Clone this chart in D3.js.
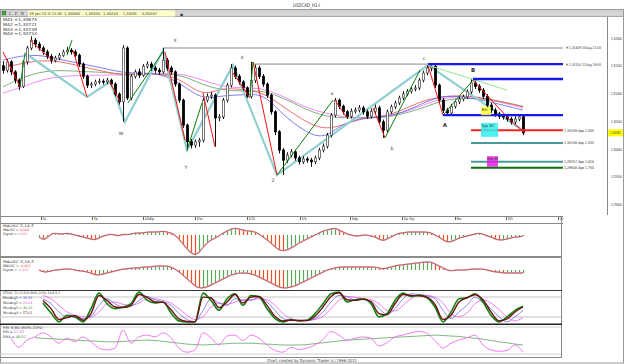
<!DOCTYPE html>
<meta charset="utf-8">
<svg width="625" height="364"></svg>
<script src="https://d3js.org/d3.v7.min.js"></script>
<style>
    body { margin: 0; background: #fff; }
    svg { display: block; font-family: "DejaVu Sans", "Liberation Sans", sans-serif; }
    text { font-size: 4.2px; fill: #333; }
</style>
<script>
    // ---- price bars, one per hour (open = previous close) ----
    var firstOpen = 1.3150;
    var closes = [
        1.3142, 1.3157, 1.3139, 1.3124, 1.3113, 1.3157, 1.3182, 1.3196, 1.3189, 1.3182,
        1.3175, 1.3167, 1.3160, 1.3164, 1.3169, 1.3175, 1.3178, 1.3175, 1.3169, 1.3153,
        1.3131, 1.3115, 1.3117, 1.3121, 1.3122, 1.3121, 1.3124, 1.3117, 1.3099, 1.3085,
        1.3182, 1.3092, 1.3131, 1.3139, 1.3133, 1.3149, 1.3153, 1.3146, 1.3142, 1.3139,
        1.3160, 1.3146, 1.3139, 1.3117, 1.3088, 1.3043, 1.3013, 1.3007, 1.3013, 1.3016,
        1.3088, 1.3095, 1.3097, 1.3056, 1.3058, 1.3088, 1.3115, 1.3146, 1.3131, 1.3121,
        1.3110, 1.3095, 1.3124, 1.3146, 1.3131, 1.3117, 1.3097, 1.3067, 1.3031, 1.2998,
        1.2980, 1.2989, 1.2995, 1.2984, 1.2977, 1.2982, 1.2980, 1.2977, 1.2984, 1.2998,
        1.3005, 1.3025, 1.3061, 1.3088, 1.3077, 1.3067, 1.3059, 1.3068, 1.3070, 1.3074,
        1.3067, 1.3059, 1.3068, 1.3074, 1.3049, 1.3034, 1.3067, 1.3076, 1.3083, 1.3092,
        1.3099, 1.3104, 1.3108, 1.3110, 1.3124, 1.3137, 1.3146, 1.3149, 1.3115, 1.3088,
        1.3070, 1.3065, 1.3077, 1.3085, 1.3090, 1.3094, 1.3103, 1.3119, 1.3113, 1.3106,
        1.3095, 1.3079, 1.3070, 1.3063, 1.3059, 1.3058, 1.3054, 1.3049, 1.3054, 1.3058,
        1.3029];
    var highs = [
        1.3158, 1.3162, 1.3160, 1.3142, 1.3127, 1.3160, 1.3186, 1.3203, 1.3200, 1.3193,
        1.3186, 1.3179, 1.3171, 1.3168, 1.3173, 1.3179, 1.3184, 1.3182, 1.3179, 1.3172,
        1.3156, 1.3134, 1.3121, 1.3125, 1.3127, 1.3126, 1.3128, 1.3127, 1.3120, 1.3102,
        1.3187, 1.3185, 1.3135, 1.3143, 1.3145, 1.3153, 1.3158, 1.3157, 1.3150, 1.3146,
        1.3182, 1.3164, 1.3150, 1.3142, 1.3120, 1.3091, 1.3046, 1.3018, 1.3017, 1.3020,
        1.3092, 1.3100, 1.3103, 1.3100, 1.3063, 1.3092, 1.3119, 1.3153, 1.3150, 1.3135,
        1.3124, 1.3113, 1.3157, 1.3152, 1.3150, 1.3135, 1.3120, 1.3100, 1.3070, 1.3034,
        1.3002, 1.2994, 1.3000, 1.2999, 1.2988, 1.2987, 1.2986, 1.2984, 1.2988, 1.3002,
        1.3010, 1.3029, 1.3065, 1.3092, 1.3091, 1.3080, 1.3070, 1.3073, 1.3075, 1.3079,
        1.3078, 1.3071, 1.3073, 1.3080, 1.3078, 1.3053, 1.3071, 1.3080, 1.3087, 1.3096,
        1.3104, 1.3108, 1.3112, 1.3115, 1.3128, 1.3141, 1.3150, 1.3153, 1.3152, 1.3118,
        1.3092, 1.3074, 1.3081, 1.3089, 1.3094, 1.3098, 1.3107, 1.3126, 1.3123, 1.3117,
        1.3110, 1.3099, 1.3083, 1.3074, 1.3067, 1.3064, 1.3062, 1.3058, 1.3059, 1.3063,
        1.3062];
    var lows = [
        1.3136, 1.3138, 1.3133, 1.3118, 1.3106, 1.3110, 1.3152, 1.3178, 1.3183, 1.3177,
        1.3170, 1.3162, 1.3154, 1.3156, 1.3160, 1.3166, 1.3171, 1.3170, 1.3165, 1.3148,
        1.3126, 1.3110, 1.3110, 1.3113, 1.3117, 1.3116, 1.3117, 1.3113, 1.3095, 1.3080,
        1.3049, 1.3088, 1.3088, 1.3127, 1.3128, 1.3130, 1.3145, 1.3141, 1.3137, 1.3134,
        1.3136, 1.3141, 1.3134, 1.3112, 1.3083, 1.3038, 1.2998, 1.3001, 1.3002, 1.3004,
        1.3012, 1.3084, 1.3090, 1.3004, 1.3050, 1.3054, 1.3084, 1.3111, 1.3126, 1.3116,
        1.3105, 1.3092, 1.3091, 1.3119, 1.3126, 1.3112, 1.3092, 1.3062, 1.3025, 1.2992,
        1.2953, 1.2975, 1.2985, 1.2979, 1.2972, 1.2973, 1.2975, 1.2968, 1.2973, 1.2980,
        1.2994, 1.3001, 1.3021, 1.3057, 1.3072, 1.3062, 1.3054, 1.3055, 1.3064, 1.3066,
        1.3062, 1.3054, 1.3055, 1.3063, 1.3044, 1.3020, 1.3030, 1.3063, 1.3072, 1.3079,
        1.3088, 1.3095, 1.3100, 1.3104, 1.3106, 1.3120, 1.3133, 1.3140, 1.3110, 1.3083,
        1.3065, 1.3061, 1.3062, 1.3073, 1.3081, 1.3086, 1.3090, 1.3099, 1.3108, 1.3101,
        1.3090, 1.3074, 1.3065, 1.3058, 1.3054, 1.3053, 1.3049, 1.3044, 1.3045, 1.3050,
        1.3025];

    // ---- moving averages, sampled every 5 bars ----
    var maBars = [0, 5, 10, 15, 20, 25, 30, 35, 40, 45, 50, 55, 60, 65, 70, 75, 80, 85, 90, 95, 100, 105, 110, 115, 120, 125, 130];
    var ma1 = [1.3160, 1.3169, 1.3169, 1.3160, 1.3153, 1.3146, 1.3137, 1.3137, 1.3135, 1.3115, 1.3088, 1.3097, 1.3097, 1.3101, 1.3061, 1.3034, 1.3016, 1.3047, 1.3056, 1.3058, 1.3065, 1.3083, 1.3097, 1.3094, 1.3088, 1.3079, 1.3070];
    var ma2 = [1.3146, 1.3155, 1.3160, 1.3157, 1.3148, 1.3140, 1.3133, 1.3137, 1.3135, 1.3124, 1.3094, 1.3112, 1.3106, 1.3103, 1.3076, 1.3052, 1.3034, 1.3043, 1.3056, 1.3058, 1.3070, 1.3088, 1.3094, 1.3097, 1.3092, 1.3085, 1.3076];
    var ma3 = [1.3112, 1.3130, 1.3140, 1.3142, 1.3139, 1.3139, 1.3133, 1.3135, 1.3135, 1.3133, 1.3115, 1.3106, 1.3104, 1.3106, 1.3092, 1.3074, 1.3059, 1.3056, 1.3056, 1.3056, 1.3063, 1.3074, 1.3088, 1.3092, 1.3090, 1.3085, 1.3077];
    var ma4 = [1.3101, 1.3112, 1.3126, 1.3131, 1.3133, 1.3133, 1.3133, 1.3135, 1.3137, 1.3135, 1.3124, 1.3112, 1.3110, 1.3110, 1.3095, 1.3077, 1.3065, 1.3058, 1.3056, 1.3058, 1.3065, 1.3079, 1.3092, 1.3095, 1.3092, 1.3083, 1.3074];
    var maLegend = ["MA1 =1,30673", "MA2 =1,30721", "MA3 =1,30749", "MA4 =1,30753"];

    // ---- swing drawings: [bar, price] ----
    var tealSwings = [[5.5, 1.3173], [21, 1.3094], [26.75, 1.3121], [30.5, 1.3049], [40, 1.3178], [46, 1.2998], [57.5, 1.3151], [68.5, 1.2953], [106.25, 1.3151], [130.5, 1.3031]];
    var redSwings = [
        [[0, 1.3175], [4.25, 1.3112]],
        [[6.75, 1.3196], [12.25, 1.3160]],
        [[17.5, 1.3178], [21, 1.3094]],
        [[26.75, 1.3121], [29.25, 1.3085]],
        [[40.5, 1.3175], [45.5, 1.3016]],
        [[50, 1.3101], [53, 1.3004]],
        [[57.5, 1.3137], [61.75, 1.3092]],
        [[62.5, 1.3157], [68.5, 1.2953]],
        [[83, 1.3088], [86, 1.3056]],
        [[92.5, 1.3074], [95.5, 1.3020]],
        [[106.25, 1.3151], [110, 1.3061]],
        [[117.5, 1.3124], [126.75, 1.3052], [130.5, 1.3029]]];
    var greenSwings = [
        [[4.25, 1.3112], [5.5, 1.3173]],
        [[16, 1.3169], [17.25, 1.3196]],
        [[31.25, 1.3083], [40, 1.3175]],
        [[46, 1.2998], [49.75, 1.3083]],
        [[61.75, 1.3094], [62.5, 1.3157]],
        [[68.5, 1.2953], [82.5, 1.3088]],
        [[95.5, 1.3020], [104.25, 1.3142]],
        [[110, 1.3061], [117.5, 1.3124]]];
    var trendLine = [[106.25, 1.3151], [126, 1.3106]];

    var waveNames = ["W", "X", "Y", "X", "Z", "a", "b", "c", "A", "B"];
    var waveBars = [29.5, 43, 45.75, 59.75, 67.5, 82.25, 97.25, 105.25, 110.5, 117.5];
    var wavePrices = [1.3029, 1.3196, 1.2968, 1.3166, 1.2944, 1.3101, 1.3002, 1.3164, 1.3043, 1.3142];

    // ---- horizontal levels ----
    var highLevels = [1.3182, 1.3153];
    var highLevelStarts = [40, 62.5];
    var highLabels = ["H 1,31829 10Aug 11:00", "H 1,31524 11Aug 19:00"];
    var swingLevels = [1.3153, 1.3126, 1.3061];        // c, B, A
    var swingStarts = [106.25, 117.5, 110];
    var projLevels = [1.3034, 1.3011, 1.2977, 1.2966];
    var projLabels = ["1,30339 App 1.000", "1,30108 App 1.250", "1,29757 App 1.618", "1,29648 App 1.750"];
    var projStart = 117;
    var zones = [
        { name: "Rtl", b0: 119.5, b1: 122, p0: 1.3076, p1: 1.3061 },
        { name: "Typ RC", b0: 119.5, b1: 123.75, p0: 1.3047, p1: 1.3022 },
        { name: "Max RC", b0: 121, b1: 123.75, p0: 1.2987, p1: 1.2968 }];
    var lastPrice = 1.30291;

    var priceTicks = [1.29, 1.295, 1.30, 1.305, 1.31, 1.315, 1.32];
    var dateTickBars = [9.5, 22.25, 35, 48, 61, 74.25, 86.75, 99.75, 113, 125.75, 138.75];
    var dateTickLabels = ["5c", "7p", "14d/p", "1/w", "1/2t", "1/k", "1dp", "1w Dp", "8w", "1f5", "2x"];

    // ---- oscillators, one value per bar (in pips) ----
    var macdFast = [
        null, null, null, null, null, null, null, null, null, -2,
        -5, -3, 1, 2, 1, 1, 2, 1, 0, -1,
        -2, -3, -4, -5, -3, -1, 0, 1, 0, -1,
        1, 0, 1, 2, 2, 2, 3, 3, 3, 3,
        4, 3, 2, 0, -4, -9, -14, -18, -20, -18,
        -12, -8, -5, -3, -1, 2, 4, 6, 7, 6,
        5, 4, 4, 3, 1, -2, -5, -8, -12, -15,
        -16, -15, -13, -11, -8, -6, -4, -2, 0, 2,
        4, 5, 6, 7, 5, 3, 1, 0, -1, -1,
        0, 0, -1, -2, -4, -6, -4, -2, 0, 2,
        2, 3, 3, 3, 3, 3, 3, 2, 0, -2,
        -5, -7, -7, -5, -3, -2, -1, 0, 1, 2,
        1, -1, -2, -4, -5, -5, -4, -3, -2, -2,
        -1];
    var macdSlow = [
        null, null, null, null, null, null, null, null, null, 0,
        -2, -2, -1, 0, 0, 1, 1, 1, 0, -1,
        -1, -2, -3, -5, -5, -4, -3, -2, -1, 0,
        1, 1, 2, 2, 2, 3, 3, 3, 4, 4,
        4, 4, 3, 1, -2, -5, -9, -12, -16, -18,
        -18, -17, -15, -13, -11, -9, -7, -5, -4, -3,
        -3, -3, -4, -5, -7, -9, -11, -13, -15, -17,
        -18, -18, -17, -16, -14, -12, -10, -8, -6, -4,
        -2, 0, 1, 2, 3, 3, 3, 3, 3, 3,
        3, 3, 3, 3, 2, 1, 2, 3, 4, 5,
        5, 6, 6, 7, 7, 8, 8, 8, 6, 4,
        2, 0, -1, 0, 0, 0, 0, 1, 1, 1,
        1, 0, -1, -2, -2, -3, -3, -3, -3, -3,
        -3];

    // ---- stochastics and RSI, every 2nd bar ----
    var stoch1 = [null, null, null, null, null, 62, 32, 5, 25, 20, 5, 45, 92, 60, 45, 50, 60, 95, 71, 62, 65, 32, 8, 5, 5, 92, 70, 40, 75, 90, 55, 85, 80, 45, 15, 5, 12, 8, 10, 30, 60, 90, 95, 65, 72, 75, 60, 20, 30, 70, 92, 82, 86, 78, 50, 5, 35, 75, 78, 90, 65, 25, 5, 20, 40, 52];
    var stoch4 = [null, null, null, null, null, 70, 45, 12, 18, 24, 10, 30, 85, 70, 50, 48, 55, 88, 80, 65, 64, 42, 14, 6, 5, 80, 78, 48, 65, 88, 62, 80, 82, 55, 22, 8, 10, 9, 9, 22, 50, 82, 93, 72, 70, 74, 66, 30, 26, 60, 88, 85, 84, 80, 58, 12, 25, 65, 78, 87, 72, 35, 8, 14, 35, 50];
    var stoch2 = [null, null, null, null, null, 75, 60, 35, 20, 20, 15, 22, 55, 75, 60, 50, 52, 70, 82, 72, 66, 55, 30, 12, 6, 40, 75, 62, 55, 75, 70, 70, 80, 65, 40, 15, 10, 9, 9, 15, 35, 65, 85, 82, 72, 72, 68, 45, 28, 45, 75, 90, 88, 84, 75, 40, 15, 35, 55, 80, 62, 45, 20, 5, 20, 40];
    var stoch3 = [null, null, null, null, null, 85, 75, 55, 35, 25, 20, 20, 35, 60, 65, 58, 55, 62, 75, 75, 70, 62, 45, 25, 12, 20, 50, 62, 58, 65, 72, 72, 75, 72, 55, 30, 15, 10, 9, 12, 22, 45, 70, 82, 80, 75, 72, 60, 40, 38, 55, 75, 86, 85, 80, 62, 30, 20, 32, 60, 71, 62, 42, 20, 8, 18];
    var rsi = [null, 56, 35, 51, 58, 67, 58, 44, 56, 47, 58, 47, 33, 29, 33, 73, 44, 58, 62, 58, 67, 56, 33, 24, 29, 67, 56, 40, 60, 62, 50, 62, 55, 40, 28, 24, 35, 30, 33, 40, 52, 70, 62, 50, 55, 58, 55, 38, 45, 58, 62, 67, 70, 66, 50, 33, 44, 51, 56, 62, 40, 29, 26, 28, 40, 24];
    var rsiEma = [null, null, null, null, 56, 55, 54, 53, 52, 51, 50, 49, 48, 47, 47, 48, 49, 50, 51, 50, 48, 46, 44, 42, 41, 40, 41, 42, 43, 44, 44, 44, 43, 42, 41, 40, 40, 40, 41, 43, 45, 47, 49, 51, 52, 53, 54, 55, 56, 57, 58, 59, 60, 61, 62, 61, 60, 59, 57, 55, 53, 50, 47, 45, 42, 40];

    // ---------- drawing ----------
    var svg = d3.select("svg");
    var fmt = function (p) { return d3.format(".5f")(p).replace(".", ","); };
    // squeeze tiny labels to the width they take in the screenshot
    function fit(sel, w) { sel.attr("textLength", w).attr("lengthAdjust", "spacingAndGlyphs"); }

    var x = d3.scaleLinear().domain([0, 140]).range([3, 563]);
    var y = d3.scaleLinear().domain([1.30, 1.32]).range([149, 38]);
    var plotRight = x(140);

    // frame and header
    svg.append("rect").attr("x", 0.5).attr("y", 9.5).attr("width", 623).attr("height", 353.5)
        .attr("fill", "none").attr("stroke", "#999");
    svg.append("text").attr("x", 293).attr("y", 7).style("font-size", "5px").attr("fill", "#222")
        .text("USDCAD_H1-I").call(fit, 27);
    svg.append("rect").attr("x", 1).attr("y", 10).attr("width", 622).attr("height", 6.5).attr("fill", "#d2d2d2");
    svg.append("line").attr("x1", 1).attr("x2", 623).attr("y1", 13.5).attr("y2", 13.5)
        .attr("stroke", "#ececec").attr("stroke-dasharray", "1,2");
    svg.append("line").attr("x1", 1).attr("x2", 623).attr("y1", 16.5).attr("y2", 16.5).attr("stroke", "#a8a8a8");

    // toolbar
    svg.append("rect").attr("x", 2).attr("y", 11).attr("width", 4).attr("height", 4).attr("fill", "#3a3").attr("stroke", "#555").attr("stroke-width", 0.4);
    [["L", 9, "#333"], ["F", 15, "#c33"], ["R", 21, "#33c"]].forEach(function (t) {
        svg.append("text").attr("x", t[1]).attr("y", 15.3).attr("fill", t[2]).text(t[0]);
    });
    svg.append("rect").attr("x", 28).attr("y", 10.5).attr("width", 147).attr("height", 6).attr("fill", "#ffffc8");
    var bar0 = [["19-Jan-15 Si 11:00", 29, 33, "#333"], ["1,30260", 64, 16, "#333"], ["1,30304", 85, 15, "#333"],
        ["1,30244", 103, 15, "#333"], ["1,30291", 123, 14, "#d22"], ["0,00287", 142, 15, "#d22"]];
    bar0.forEach(function (t) {
        svg.append("text").attr("x", t[1]).attr("y", 15).attr("fill", t[3]).style("font-size", "3.8px")
            .text(t[0]).call(fit, t[2]);
    });
    svg.append("text").attr("x", 180).attr("y", 15.5).attr("fill", "#333").text("\u25C6");

    // price panel
    svg.append("clipPath").attr("id", "pclip").append("rect")
        .attr("x", 0).attr("y", 17).attr("width", plotRight + 1).attr("height", 199);
    var pg = svg.append("g").attr("clip-path", "url(#pclip)");

    var maLine = d3.line().x(function (d, i) { return x(maBars[i]); }).y(function (d) { return y(d); }).curve(d3.curveBasis);
    [[ma4, "#f070f0"], [ma3, "#60a060"], [ma2, "#f05050"], [ma1, "#6060f0"]].forEach(function (m) {
        pg.append("path").datum(m[0]).attr("d", maLine).attr("fill", "none")
            .attr("stroke", m[1]).attr("stroke-width", 0.9).attr("opacity", 0.9);
    });

    // old highs
    highLevels.forEach(function (p, i) {
        pg.append("line").attr("x1", x(highLevelStarts[i])).attr("x2", plotRight)
            .attr("y1", y(p)).attr("y2", y(p)).attr("stroke", "#8a8a8a").attr("stroke-width", 1);
    });

    var ptLine = d3.line().x(function (d) { return x(d[0]); }).y(function (d) { return y(d[1]); });
    pg.append("path").datum(tealSwings).attr("d", ptLine).attr("fill", "none")
        .attr("stroke", "#8fcfcf").attr("stroke-width", 2.2);

    // candles
    var bars = closes.map(function (c, i) {
        return { i: i, o: i ? closes[i - 1] : firstOpen, c: c, h: highs[i], l: lows[i] };
    });
    var cg = pg.append("g").selectAll("g").data(bars).join("g");
    cg.append("line")
        .attr("x1", function (d) { return Math.round(x(d.i)) + 0.5; })
        .attr("x2", function (d) { return Math.round(x(d.i)) + 0.5; })
        .attr("y1", function (d) { return y(d.h); })
        .attr("y2", function (d) { return y(d.l); })
        .attr("stroke", "#111").attr("stroke-width", 1);
    cg.append("rect")
        .attr("x", function (d) { return Math.round(x(d.i)) - 0.5; })
        .attr("width", 2)
        .attr("y", function (d) { return y(Math.max(d.o, d.c)); })
        .attr("height", function (d) { return Math.max(0.8, Math.abs(y(d.o) - y(d.c))); })
        .attr("fill", function (d) { return d.c >= d.o ? "#fff" : "#000"; })
        .attr("stroke", function (d) { return d.c >= d.o ? "#555" : "#000"; })
        .attr("stroke-width", 0.8);

    redSwings.forEach(function (s) {
        pg.append("path").datum(s).attr("d", ptLine).attr("fill", "none").attr("stroke", "#ff1010").attr("stroke-width", 1);
    });
    greenSwings.forEach(function (s) {
        pg.append("path").datum(s).attr("d", ptLine).attr("fill", "none").attr("stroke", "#0a800a").attr("stroke-width", 1);
    });
    pg.append("path").datum(trendLine).attr("d", ptLine).attr("fill", "none").attr("stroke", "#90e890").attr("stroke-width", 1);

    // swing levels
    swingLevels.forEach(function (p, i) {
        pg.append("line").attr("x1", x(swingStarts[i])).attr("x2", plotRight)
            .attr("y1", y(p)).attr("y2", y(p)).attr("stroke", "#1818e8").attr("stroke-width", 2.4);
    });
    var projColors = ["#ff2020", "#4a9a9a", "#4a9a9a", "#107010"];
    projLevels.forEach(function (p, i) {
        pg.append("line").attr("x1", x(projStart)).attr("x2", plotRight)
            .attr("y1", y(p)).attr("y2", y(p)).attr("stroke", projColors[i]).attr("stroke-width", 2);
    });

    var zoneColors = ["#ffff30", "#30f0f0", "#e020e0"];
    var zoneText = [6, 13, 11];
    zones.forEach(function (z, i) {
        pg.append("rect").attr("x", x(z.b0)).attr("width", x(z.b1) - x(z.b0))
            .attr("y", y(z.p0)).attr("height", y(z.p1) - y(z.p0))
            .attr("fill", zoneColors[i]).attr("opacity", 0.85);
        pg.append("text").attr("x", x(z.b0) + 0.5).attr("y", y(z.p0) + 4)
            .style("font-size", "3.6px").attr("fill", "#333").text(z.name).call(fit, zoneText[i]);
    });

    waveNames.forEach(function (n, i) {
        var big = n === "A" || n === "B";
        pg.append("text").attr("x", x(waveBars[i])).attr("y", y(wavePrices[i]) + 2)
            .attr("text-anchor", "middle")
            .style("font-size", big ? "5.5px" : "4.6px").style("font-weight", big ? "bold" : "normal")
            .attr("fill", big ? "#111" : (i < 5 ? "#a05050" : "#444")).text(n);
    });

    // level labels
    highLabels.forEach(function (t, i) {
        svg.append("text").attr("x", plotRight + 3).attr("y", y(highLevels[i]) + 1.5).attr("fill", "#555")
            .style("font-size", "3.8px").text(t).call(fit, 35);
    });
    var projTextColors = ["#ff2020", "#3a8a8a", "#3a8a8a", "#107010"];
    projLabels.forEach(function (t, i) {
        svg.append("text").attr("x", plotRight + 1).attr("y", y(projLevels[i]) + 1.5).attr("fill", projTextColors[i])
            .style("font-size", "3.8px").text(t).call(fit, 30);
    });

    // MA legend
    var maColors = ["#4040e0", "#e03030", "#309030", "#e040e0"];
    maLegend.forEach(function (t, i) {
        svg.append("text").attr("x", 3).attr("y", 21 + i * 4.8).attr("fill", maColors[i])
            .style("font-size", "4.2px").text(t).call(fit, 34);
    });

    // right price axis
    var ya = svg.append("g").attr("transform", "translate(607,0)")
        .call(d3.axisRight(y).tickValues(priceTicks).tickFormat(fmt).tickSize(0).tickPadding(4));
    ya.select(".domain").remove();
    ya.selectAll("text").style("font-size", "3.8px").attr("fill", "#555").attr("font-family", null).call(fit, 11);
    svg.append("line").attr("x1", 607.5).attr("x2", 607.5).attr("y1", 17).attr("y2", 215).attr("stroke", "#888");
    svg.append("rect").attr("x", 608).attr("y", y(lastPrice) - 3.5).attr("width", 15).attr("height", 7).attr("fill", "#ffff00");
    svg.append("text").attr("x", 610).attr("y", y(lastPrice) + 1.5).attr("fill", "#333")
        .style("font-size", "3.8px").text(fmt(lastPrice)).call(fit, 11);

    // date axis
    var xa = svg.append("g").attr("transform", "translate(0,217)")
        .call(d3.axisBottom(x).tickValues(dateTickBars).tickFormat(function (d, i) { return dateTickLabels[i]; }).tickSize(3).tickPadding(1));
    xa.select(".domain").remove();
    xa.selectAll("line").attr("stroke", "#666");
    xa.selectAll("text").style("font-size", "3.8px").attr("fill", "#444").attr("font-family", null)
        .attr("text-anchor", "start").attr("dx", "1").attr("dy", "-0.3em");
    svg.append("line").attr("x1", 0).attr("x2", plotRight).attr("y1", 216.5).attr("y2", 216.5).attr("stroke", "#888");
    svg.append("line").attr("x1", 0).attr("x2", plotRight).attr("y1", 223.5).attr("y2", 223.5).attr("stroke", "#888");

    // lower panels frame
    svg.append("line").attr("x1", plotRight - 1.5).attr("x2", plotRight - 1.5).attr("y1", 216).attr("y2", 358).attr("stroke", "#888");
    svg.append("line").attr("x1", 0).attr("x2", plotRight - 1).attr("y1", 357.5).attr("y2", 357.5).attr("stroke", "#888");
    svg.append("rect").attr("x", 0).attr("y", 256).attr("width", plotRight - 1).attr("height", 2).attr("fill", "#8a8a8a");
    svg.append("line").attr("x1", 0).attr("x2", plotRight - 1).attr("y1", 290.5).attr("y2", 290.5).attr("stroke", "#333");
    svg.append("rect").attr("x", 0).attr("y", 323.5).attr("width", plotRight - 1).attr("height", 1.5).attr("fill", "#222");

    // MACD-style oscillators
    function drawOsc(vals, top, bottom, lo, hi) {
        var yo = d3.scaleLinear().domain([lo, hi]).range([bottom, top]);
        var g = svg.append("g");
        vals.forEach(function (v, i) {
            if (v === null) return;
            var prev = vals[i - 1];
            var up = prev === null || prev === undefined || v >= prev;
            g.append("line").attr("x1", Math.round(x(i)) + 0.5).attr("x2", Math.round(x(i)) + 0.5)
                .attr("y1", yo(0)).attr("y2", yo(v))
                .attr("stroke", up ? "#5aa85a" : "#f05020").attr("stroke-width", 1.2);
        });
        var ln = d3.line().defined(function (d) { return d !== null; })
            .x(function (d, i) { return x(i); }).y(function (d) { return yo(d); }).curve(d3.curveBasis);
        g.append("path").datum(vals).attr("d", ln).attr("fill", "none").attr("stroke", "#f0a0b0").attr("stroke-width", 1.4);
        g.append("path").datum(vals).attr("d", ln).attr("fill", "none").attr("stroke", "#a04848").attr("stroke-width", 0.7);
    }
    drawOsc(macdFast, 223, 256, -21, 12);
    drawOsc(macdSlow, 258, 290, -20, 12);

    // panel captions: [caption, width] or [caption, value, value colour]
    function caption(lines, y0, step, size) {
        lines.forEach(function (l, i) {
            var t = svg.append("text").attr("x", 3).attr("y", y0 + i * step).attr("fill", "#333")
                .style("font-size", size + "px");
            if (typeof l[1] === "number") {
                t.text(l[0]).call(fit, l[1]);
            } else {
                t.append("tspan").text(l[0]);
                t.append("tspan").attr("fill", l[2]).text(l[1]);
            }
        });
    }
    caption([["MAOSC 5,14,5", 31], ["MAOSC = ", "0,001", "#f03030"], ["Signal = ", "0,001", "#e070a0"]], 227, 4, 3.3);
    caption([["MAOSC 5,34,5", 31], ["MAOSC = ", "-0,003", "#f03030"], ["Signal = ", "-0,003", "#e070a0"]], 262.5, 4, 3.3);

    // stochastics
    var ys = d3.scaleLinear().domain([0, 100]).range([323.5, 290.5]);
    [80, 20].forEach(function (v) {
        svg.append("line").attr("x1", 0).attr("x2", plotRight - 2).attr("y1", ys(v)).attr("y2", ys(v))
            .attr("stroke", "#d8d8d8").attr("stroke-width", 1.5);
    });
    var osLine = d3.line().defined(function (d) { return d !== null; })
        .x(function (d, i) { return x(i * 2); }).y(function (d) { return ys(d); }).curve(d3.curveMonotoneX);
    [[stoch3, "#f060f0", 0.8], [stoch2, "#7070e0", 0.8], [stoch1, "#108010", 1.6], [stoch4, "#701010", 1.4]].forEach(function (s) {
        svg.append("path").datum(s[0]).attr("d", osLine).attr("fill", "none").attr("stroke", s[1]).attr("stroke-width", s[2]);
    });
    caption([["STOSC 21,13,8,8 (80%-20%) 14,8,5,3", 57], ["MovAvg1 = ", "36,36", "#4040e0"],
        ["MovAvg2 = ", "23,64", "#e040e0"], ["MovAvg3 = ", "46,33", "#109010"],
        ["MovAvg4 = ", "57,61", "#801010"]], 294, 4.9, 3.3);

    // RSI
    var yr = d3.scaleLinear().domain([20, 80]).range([354, 327]);
    [80, 20].forEach(function (v) {
        svg.append("line").attr("x1", 0).attr("x2", plotRight - 2).attr("y1", yr(v)).attr("y2", yr(v))
            .attr("stroke", "#d0d0d0").attr("stroke-width", 1);
    });
    var rLine = d3.line().defined(function (d) { return d !== null; })
        .x(function (d, i) { return x(i * 2); }).y(function (d) { return yr(d); }).curve(d3.curveMonotoneX);
    svg.append("path").datum(rsiEma).attr("d", rLine).attr("fill", "none").attr("stroke", "#70b070").attr("stroke-width", 0.9);
    svg.append("path").datum(rsi).attr("d", rLine).attr("fill", "none").attr("stroke", "#f070f0").attr("stroke-width", 0.9);
    caption([["RSI 8,80 (80%-20%)", 40], ["RSI = ", "27,03", "#e040e0"], ["EMA = ", "48,52", "#309030"]], 328.5, 4.9, 3.5);

    svg.append("text").attr("x", 267).attr("y", 362).attr("fill", "#333").style("font-size", "4px")
        .text("Chart created by Dynamic Trader  (c) 1996-2011").call(fit, 90);
</script>
